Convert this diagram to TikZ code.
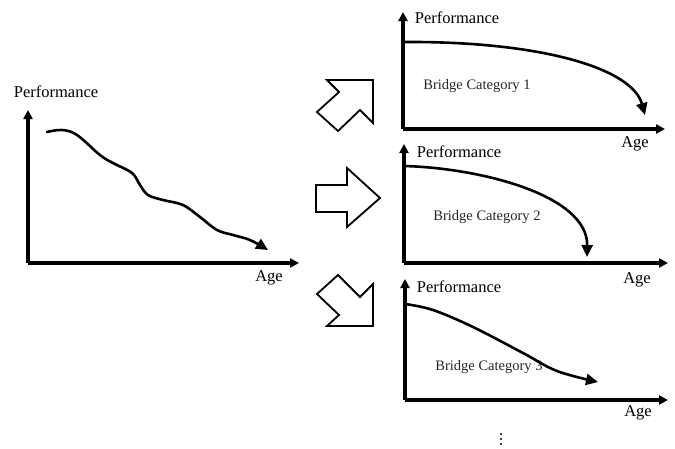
\documentclass[tikz,border=0pt]{standalone}
\usepackage{fontspec}
\setmainfont{Liberation Serif}
\usetikzlibrary{arrows.meta}
\tikzset{
  axis/.style={line width=3.2pt,-{Triangle[length=9pt,width=9pt]}},
  trend/.style={line width=2.6pt,line cap=round,-{Triangle[length=12pt,width=11pt]}},
  blockarrow/.style={draw,line width=1.8pt,fill=white,line join=miter},
  lab/.style={font=\fontsize{16.5}{18}\selectfont,inner sep=0pt},
  cat/.style={font=\fontsize{14.5}{16}\selectfont,text=black!85,inner sep=0pt}
}
\begin{document}
\begin{tikzpicture}[x=1pt,y=-1pt]
\useasboundingbox (0,0) rectangle (675,448);
% ---------- left chart ----------
\coordinate (o0) at (28,263);
\coordinate (y0) at (28,110);
\coordinate (x0) at (299,263);
\draw[axis] (o0) -- (y0);
\draw[axis] (o0) -- (x0);
\node[lab] (p0) at (56,92) {Performance};
\node[lab] (a0) at (269,278) {Age};
\draw[trend] plot[smooth,tension=0.6] coordinates {(47,132) (62,130) (77,135) (100,155) (113,163) (132,173) (140,185) (148,195) (163,200) (183,205) (200,217) (217,230) (233,235) (250,240) (268,250)};
% ---------- block arrows ----------
\draw[blockarrow] (327,80) -- (373,80) -- (373,123) -- (360,110) -- (338,131) -- (317,112) -- (339,92) -- cycle;
\draw[blockarrow] (316,185) -- (347,185) -- (347,168) -- (380,198) -- (347,227) -- (347,212) -- (316,212) -- cycle;
\draw[blockarrow] (327,326) -- (373,326) -- (373,284) -- (360,297) -- (338,275) -- (317,294) -- (339,315) -- cycle;
% ---------- category 1 ----------
\coordinate (o1) at (403,129);
\coordinate (y1) at (403,12);
\coordinate (x1) at (665,129);
\draw[axis] (o1) -- (y1);
\draw[axis] (o1) -- (x1);
\node[lab] (p1) at (457,18) {Performance};
\node[lab] (a1) at (635,144) {Age};
\node[cat] (c1) at (477,86) {Bridge Category 1};
\draw[trend] (403,42) .. controls (540,41) and (632,68) .. (645,115);
% ---------- category 2 ----------
\coordinate (o2) at (404,263);
\coordinate (y2) at (404,144);
\coordinate (x2) at (668,263);
\draw[axis] (o2) -- (y2);
\draw[axis] (o2) -- (x2);
\node[lab] (p2) at (459,152) {Performance};
\node[lab] (a2) at (637,280) {Age};
\node[cat] (c2) at (487,217) {Bridge Category 2};
\draw[trend] (404,166) .. controls (480,168) and (588,195) .. (587,257);
% ---------- category 3 ----------
\coordinate (o3) at (405,400);
\coordinate (y3) at (405,279);
\coordinate (x3) at (668,400);
\draw[axis] (o3) -- (y3);
\draw[axis] (o3) -- (x3);
\node[lab] (p3) at (459,287) {Performance};
\node[lab] (a3) at (638,413) {Age};
\node[cat] (c3) at (489,367) {Bridge Category 3};
\draw[trend] plot[smooth,tension=0.6] coordinates {(405,304) (433,310) (473,327) (523,353) (557,371) (598,382)};
% ---------- continuation dots ----------
\foreach \yy in {434,439,444} \fill (501,\yy) circle (1.2);
\end{tikzpicture}
\end{document}
